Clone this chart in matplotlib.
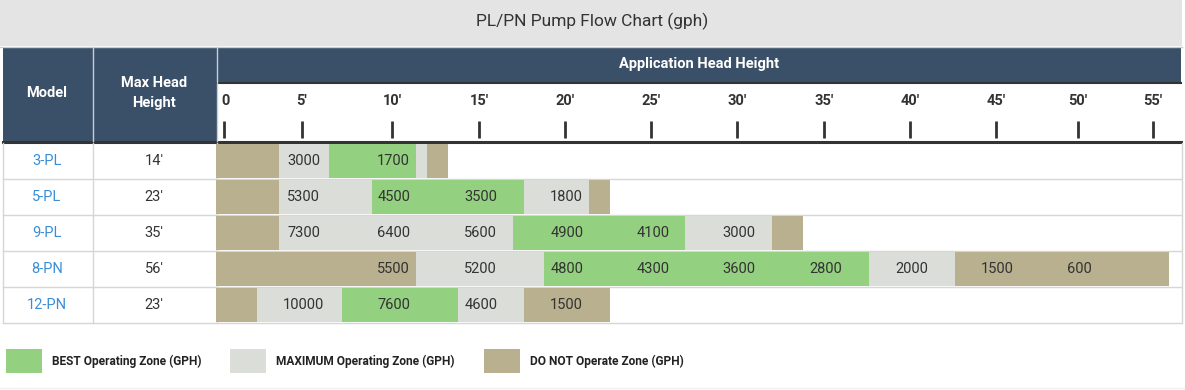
import matplotlib
matplotlib.use("Agg")
import matplotlib.pyplot as plt
from matplotlib.patches import Rectangle
import numpy as np

plt.rcParams['font.family'] = ['Roboto', 'DejaVu Sans']

# ---- data ----
models = ["3-PL", "5-PL", "9-PL", "8-PN", "12-PN"]
max_head = ["14'", "23'", "35'", "56'", "23'"]
tick_ft = [0, 5, 10, 15, 20, 25, 30, 35, 40, 45, 50, 55]
tick_labels = ["0", "5'", "10'", "15'", "20'", "25'", "30'", "35'", "40'", "45'", "50'", "55'"]

# flow (gph) at head heights 5', 10', 15', ...
flow_heights = [5, 10, 15, 20, 25, 30, 35, 40, 45, 50]
flow_3pl = [3000, 1700]
flow_5pl = [5300, 4500, 3500, 1800]
flow_9pl = [7300, 6400, 5600, 4900, 4100, 3000]
flow_8pn = [None, 5500, 5200, 4800, 4300, 3600, 2800, 2000, 1500, 600]
flow_12pn = [10000, 7600, 4600, 1500]

# zone end (ft) and zone type, left to right
zones_3pl = [(3.5, "no"), (6.5, "max"), (11.4, "best"), (12.0, "max"), (13.2, "no")]
zones_5pl = [(3.5, "no"), (8.9, "max"), (17.6, "best"), (21.4, "max"), (22.6, "no")]
zones_9pl = [(3.5, "no"), (17.0, "max"), (27.0, "best"), (32.0, "max"), (33.8, "no")]
zones_8pn = [(11.4, "no"), (18.8, "max"), (37.6, "best"), (42.6, "max"), (56.1, "no")]
zones_12pn = [(2.1, "no"), (7.2, "max"), (13.8, "best"), (17.6, "max"), (22.6, "no")]

flows = [flow_3pl, flow_5pl, flow_9pl, flow_8pn, flow_12pn]
zones = [zones_3pl, zones_5pl, zones_9pl, zones_8pn, zones_12pn]

zone_colors = {"best": "#93d07f", "max": "#dbddd8", "no": "#b8b08e"}
legend_labels = [("best", "BEST Operating Zone (GPH)"),
                 ("max", "MAXIMUM Operating Zone (GPH)"),
                 ("no", "DO NOT Operate Zone (GPH)")]

# ---- layout (pixels) ----
W, H = 1185, 390
HEADER = "#3a5068"
LINE = "#d6d6d6"
TXT = "#333333"
BLUE = "#3b8ed6"

# html table columns are uneven: map feet to pixel columns
scale_ft = [-0.5] + tick_ft + [56.9]
scale_px = [216, 224, 302, 392, 479, 565, 651, 737, 824, 910, 996, 1078, 1153, 1181]

def fwd(x):
    return np.interp(x, scale_ft, scale_px)

def inv(x):
    return np.interp(x, scale_px, scale_ft)

fig = plt.figure(figsize=(W / 100, H / 100), dpi=100)
bg = fig.add_axes([0, 0, 1, 1])
bg.set_xlim(0, W)
bg.set_ylim(H, 0)
bg.axis('off')

# title band
bg.add_patch(Rectangle((0, 0), 1182, 46, color="#e4e4e4", lw=0))
bg.plot([0, 1182], [46.5, 46.5], color="#cccccc", lw=1)
bg.text(592, 21, "PL/PN Pump Flow Chart (gph)", ha='center', va='center',
        fontsize=12.5, color=TXT)

# header
bg.add_patch(Rectangle((3, 47), 1178, 96, color=HEADER, lw=0))
bg.add_patch(Rectangle((217, 84), 964, 57, color="white", lw=0))
bg.plot([217, 1181], [83, 83], color=TXT, lw=1.5)
bg.plot([3, 1181], [142, 142], color=TXT, lw=2.2)
for x in [92.5, 216.5]:
    bg.plot([x, x], [47, 141], color="#c9ced6", lw=1)
bg.text(47, 93, "Model", ha='center', va='center', color="white",
        fontsize=10.5, fontweight='bold')
bg.text(154, 93, "Max Head\nHeight", ha='center', va='center', color="white",
        fontsize=10.5, fontweight='bold', linespacing=1.55)
bg.text(699, 64, "Application Head Height", ha='center', va='center',
        color="white", fontsize=10.5, fontweight='bold')

# body grid
for i in range(1, len(models) + 1):
    y = 143 + 36 * i
    bg.plot([3, 1181], [y, y], color=LINE, lw=1)
for x in [2.5, 92.5, 216.5, 1181.5]:
    bg.plot([x, x], [143, 323], color=LINE, lw=1)

for i, (m, h) in enumerate(zip(models, max_head)):
    yc = 143 + 36 * i + 18
    bg.text(47, yc, m, ha='center', va='center', color=BLUE, fontsize=10.5)
    bg.text(154, yc, h, ha='center', va='center', color=TXT, fontsize=10.5)

# legend
leg_x = [6, 230, 484]
for (key, lab), x in zip(legend_labels, leg_x):
    bg.add_patch(Rectangle((x, 349), 36, 24, color=zone_colors[key], lw=0))
    bg.text(x + 46, 361.5, lab, ha='left', va='center', color="#222222",
            fontsize=8.6, fontweight='bold')
bg.plot([0, W], [388, 388], color="#f0f0f0", lw=1)

# ---- data axes for the zone bars ----
ax = fig.add_axes([216 / W, (H - 323) / H, (1181 - 216) / W, 180 / H])
ax.set_xscale('function', functions=(fwd, inv))
ax.set_xlim(scale_ft[0], scale_ft[-1])
ax.set_ylim(len(models) - 0.5, -0.5)
ax.axis('off')
ax.patch.set_alpha(0)

for row, (zl, fl) in enumerate(zip(zones, flows)):
    start = scale_ft[0]
    for end, kind in zl:
        ax.barh(row, end - start, left=start, height=0.972,
                color=zone_colors[kind], lw=0)
        start = end
    for hgt, val in zip(flow_heights, fl):
        if val is None:
            continue
        ax.text(hgt + 0.1, row, str(val), ha='center', va='center',
                color=TXT, fontsize=10.5)

# header ticks drawn against the same feet scale
tr = ax.get_xaxis_transform()
ax.vlines(tick_ft, 1.028, 1.122, color=TXT, lw=2, transform=tr, clip_on=False)
for t, lab in zip(tick_ft, tick_labels):
    ax.text(t + (0.1 if t == 0 else 0), 1.233, lab, ha='center', va='center',
            transform=tr, color=TXT, fontsize=10.5, fontweight='bold',
            clip_on=False)

fig.savefig("out.png", dpi=100)
